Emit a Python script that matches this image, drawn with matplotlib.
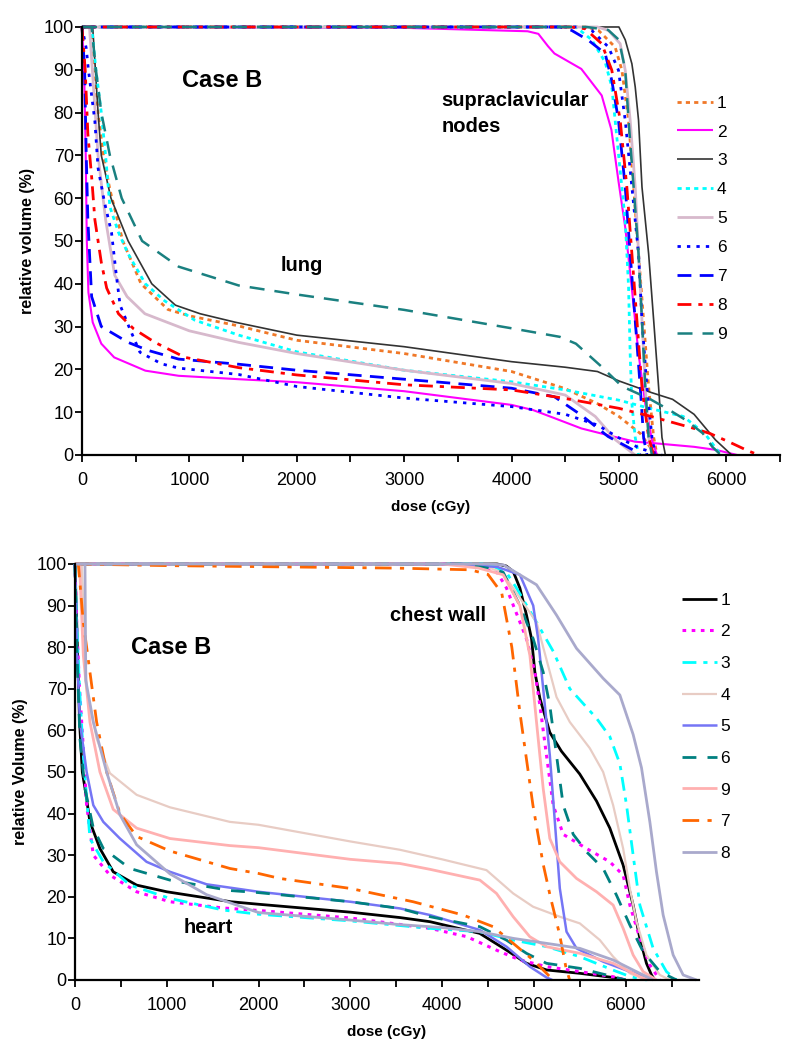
import matplotlib
matplotlib.use('Agg')
import matplotlib.pyplot as plt
from matplotlib.ticker import MultipleLocator

plt.rcParams['font.family'] = ['Liberation Sans', 'DejaVu Sans']

# ---- top panel: lung and supraclavicular nodes (dose cGy, volume %) ----
lung_1 = [(0, 100), (80, 100), (120, 90), (150, 80), (200, 70), (260, 62), (380, 50), (550, 40),
          (800, 34), (1000, 32.5), (1450, 30.2), (2000, 26.8), (3000, 23.7), (4000, 19.5),
          (4500, 15.5), (4800, 12), (5000, 9), (5200, 5), (5300, 1.5), (5350, 0)]
lung_2 = [(0, 100), (20, 90), (35, 70), (45, 50), (60, 38), (100, 31), (180, 26), (300, 22.8),
          (590, 19.7), (900, 18.5), (1460, 17.7), (2000, 17), (3000, 14.9), (4000, 11.7),
          (4200, 10.5), (4400, 8.6), (4650, 6.2), (4950, 4.3), (5150, 3.1), (5350, 2.7),
          (5700, 1.9), (5900, 1.2), (6050, 0.3), (6100, 0)]
lung_3 = [(0, 100), (100, 100), (150, 80), (180, 70), (270, 60), (430, 50), (650, 40), (870, 35),
          (1100, 33), (1430, 31), (2000, 28), (3000, 25.3), (4000, 21.8), (4500, 20.5),
          (4800, 19.5), (5000, 17.3), (5300, 14.6), (5500, 13), (5700, 9.5), (5900, 3.5), (6050, 0)]
lung_4 = [(0, 100), (90, 100), (130, 90), (180, 80), (220, 70), (260, 58), (340, 52), (430, 47),
          (590, 40), (770, 36), (1050, 31.5), (1460, 28), (2000, 24.1), (3000, 19.8),
          (4000, 17.1), (4500, 15.2), (5000, 12.8), (5300, 10.8), (5600, 9), (5800, 5), (5950, 0)]
lung_5 = [(0, 100), (70, 100), (110, 85), (150, 70), (220, 55), (305, 42), (420, 37), (586, 33),
          (1000, 29), (1460, 26.3), (2000, 23.7), (3000, 19.8), (4000, 16.7), (4500, 14),
          (4780, 9), (4970, 3.5), (5150, 0)]
lung_6 = [(0, 100), (40, 95), (60, 90), (120, 78), (150, 67), (210, 59), (275, 52), (320, 42),
          (355, 35), (445, 29.5), (540, 24), (740, 21.3), (900, 20.3), (1460, 18.8), (2000, 16),
          (3000, 13.3), (4000, 11.3), (4500, 9.5), (4800, 7), (5000, 4), (5200, 1.5), (5400, 0)]
lung_7 = [(0, 100), (25, 90), (40, 70), (55, 55), (90, 37), (180, 30), (430, 26.3), (620, 24.4),
          (900, 22.4), (1460, 21.2), (2000, 19.8), (3000, 17.7), (4000, 15.6), (4400, 13.6),
          (4650, 9.3), (4900, 4.3), (5130, 1.2), (5200, 0)]
lung_8 = [(0, 100), (30, 90), (55, 75), (90, 65), (120, 55), (180, 45), (230, 39), (340, 33),
          (480, 29.5), (680, 26.3), (960, 22.8), (1460, 20.4), (2000, 18.7), (3000, 16.4),
          (4000, 15.2), (4500, 13.2), (5000, 10.9), (5300, 9), (5700, 6.2), (5850, 5),
          (6030, 3), (6200, 1), (6300, 0)]
lung_9 = [(0, 100), (90, 100), (130, 90), (180, 80), (260, 70), (370, 60), (560, 50), (900, 44),
          (1460, 39.6), (2000, 37.5), (3000, 33.9), (4000, 29.6), (4450, 27.6), (4600, 26),
          (4840, 20.6), (5030, 16), (5280, 13.2), (5470, 10.5), (5620, 8.2), (5780, 5.1),
          (5870, 1.9), (5950, 0)]

nodes_1 = [(0, 100), (4700, 100), (4810, 99.2), (4965, 95.3), (5028, 89.9), (5090, 78.2),
           (5137, 62.6), (5183, 47), (5230, 31.4), (5277, 15.8), (5324, 4.1), (5355, 0)]
nodes_2 = [(0, 100), (3000, 99.8), (4150, 99), (4250, 98.4), (4340, 95.5), (4400, 93.8),
           (4650, 90.2), (4840, 84), (4930, 76), (4996, 64), (5060, 53), (5120, 39),
           (5183, 23.6), (5246, 11.9), (5308, 3.4), (5355, 0)]
nodes_3 = [(0, 100), (5000, 100), (5059, 97), (5121, 91.4), (5152, 86), (5183, 78.2),
           (5215, 62.6), (5277, 47), (5324, 31.4), (5370, 15.8), (5401, 4.1), (5433, 0)]
nodes_4 = [(0, 100), (4600, 100), (4747, 97), (4872, 91.8), (4934, 86), (4996, 70.4),
           (5059, 54.8), (5090, 39.2), (5105, 23.6), (5121, 11.9), (5152, 4.1), (5183, 0)]
nodes_5 = [(0, 100), (4800, 100), (4903, 99.2), (5012, 96.1), (5059, 89.9), (5105, 78.2),
           (5152, 62.6), (5183, 47), (5215, 31.4), (5246, 15.8), (5277, 4.1), (5308, 0)]
nodes_6 = [(0, 100), (4650, 100), (4747, 99.2), (4903, 95.3), (4996, 89.9), (5059, 78.2),
           (5121, 62.6), (5183, 47), (5215, 31.4), (5261, 15.8), (5308, 4.1), (5339, 0)]
nodes_7 = [(0, 100), (4450, 100), (4560, 99.2), (4716, 96.9), (4872, 93.8), (4934, 87.5),
           (4996, 78.2), (5059, 62.6), (5105, 47), (5152, 31.4), (5199, 15.8), (5230, 4.1), (5261, 0)]
nodes_8 = [(0, 100), (4550, 100), (4685, 99.6), (4840, 96.1), (4934, 89.9), (5012, 78.2),
           (5074, 62.6), (5121, 47), (5168, 31.4), (5215, 15.8), (5277, 4.1), (5324, 0)]
nodes_9 = [(0, 100), (4700, 100), (4900, 99.3), (5000, 97), (5059, 90), (5090, 78.2),
           (5137, 62.6), (5183, 47), (5215, 31.4), (5246, 15.8), (5277, 4.1), (5308, 0)]

# ---- bottom panel: heart and chest wall ----
heart_1 = [(0, 100), (20, 85), (50, 62), (80, 50), (110, 46), (163, 38), (272, 31.6), (417, 26),
           (672, 22.8), (1000, 21.2), (1700, 18.8), (2000, 18.2), (3000, 16.3), (3540, 15),
           (3870, 14), (4410, 11.2), (4700, 7.2), (4920, 4), (5140, 2.4), (5500, 1.6),
           (5860, 0.6), (6000, 0)]
heart_2 = [(0, 100), (20, 85), (50, 70), (91, 55.7), (127, 42), (200, 30), (381, 25.2),
           (672, 21.2), (1035, 18.8), (1615, 17.3), (2000, 16.7), (3000, 14.9), (3870, 12.4),
           (4270, 10.4), (4630, 6.8), (4850, 4.8), (5140, 3.2), (5500, 2), (5860, 0.8), (6000, 0)]
heart_3 = [(0, 100), (20, 85), (50, 70), (91, 54), (163, 34), (309, 28.4), (599, 22.8),
           (1035, 19.6), (1615, 16.8), (2000, 15.8), (3000, 14.2), (3870, 12.4), (4410, 11.6),
           (4775, 9.6), (5140, 8), (5500, 5.6), (5860, 2.4), (6050, 0.8), (6230, 0)]
heart_4 = [(0, 100), (73, 100), (127, 70), (236, 58), (381, 49.7), (672, 44.5), (1035, 41.5),
           (1688, 38), (2000, 37.3), (3000, 33.3), (3540, 31.3), (4000, 29), (4484, 26.4),
           (4775, 20.8), (4992, 17.6), (5283, 15.2), (5501, 13.6), (5719, 9.6), (5864, 5.6),
           (6045, 1.6), (6230, 0)]
heart_5 = [(0, 100), (20, 80), (54, 62), (127, 50), (200, 42), (309, 38), (490, 34), (780, 28.4),
           (1035, 26), (1434, 23), (2000, 21.2), (3000, 18.8), (3540, 17.2), (3870, 15.6),
           (4412, 12), (4702, 8), (4956, 3.2), (5138, 0.6), (5200, 0)]
heart_6 = [(0, 100), (20, 80), (54, 58), (109, 46), (200, 36.5), (309, 31.6), (599, 26.8),
           (1035, 24), (1688, 21.5), (2000, 21), (3000, 18.8), (3540, 17.2), (3870, 15.2),
           (4412, 12.8), (4700, 9.6), (4920, 6.4), (5138, 4), (5500, 2.8), (5864, 0.8), (6000, 0)]
heart_9 = [(0, 100), (50, 100), (91, 78), (163, 62), (272, 50), (417, 41), (672, 36.5),
           (1035, 34), (1688, 32.3), (2000, 31.8), (3000, 29), (3540, 28), (3867, 26.6),
           (4412, 24), (4593, 20.8), (4775, 15.2), (4956, 10.4), (5138, 8), (5501, 6.4),
           (5864, 4), (6155, 0.8), (6250, 0)]
heart_7 = [(0, 100), (36, 100), (91, 86), (163, 74), (236, 62), (345, 50), (490, 40), (672, 34.5),
           (1035, 31), (1688, 26.8), (2000, 25.6), (2233, 24.4), (3000, 22), (3685, 18.8),
           (4230, 15.6), (4557, 12.8), (4775, 8.8), (4992, 4.8), (5138, 1.6), (5210, 0)]
heart_8 = [(0, 100), (109, 100), (118, 72), (200, 62), (345, 50), (490, 39.7), (672, 32.5),
           (1035, 25.5), (1434, 20.5), (2000, 16.2), (3000, 14.4), (3540, 13.3), (4000, 12.6),
           (4412, 11.6), (4775, 10), (5138, 8.8), (5501, 7.6), (5864, 4.8), (6045, 2.8),
           (6264, 0.4), (6300, 0)]

chest_1 = [(0, 100), (4600, 100), (4700, 99.5), (4775, 98.2), (4848, 94.2), (4920, 87.7),
           (4975, 82), (5011, 74), (5066, 67.7), (5174, 59.5), (5300, 55), (5500, 49.5),
           (5683, 43), (5828, 36.5), (5973, 27.6), (6082, 18), (6155, 10), (6227, 4),
           (6282, 1.2), (6318, 0)]
chest_2 = [(0, 100), (4300, 100), (4600, 98), (4702, 94.2), (4920, 82), (5011, 74), (5066, 66),
           (5138, 54), (5211, 42), (5320, 35), (5574, 31.6), (5828, 28.4), (5973, 25.2),
           (6046, 18), (6155, 10), (6264, 3.6), (6373, 0)]
chest_3 = [(0, 100), (4500, 100), (4700, 98), (4811, 94.2), (5029, 86), (5211, 79), (5392, 70),
           (5683, 62.9), (5828, 58.5), (5937, 52), (6010, 42), (6082, 30), (6155, 18),
           (6300, 7.6), (6445, 2), (6554, 0)]
chest_4 = [(0, 100), (4400, 100), (4650, 98), (4775, 94.2), (5029, 86), (5247, 68), (5392, 62),
           (5610, 55.7), (5755, 50), (5864, 42), (5973, 31.6), (6046, 22), (6119, 14),
           (6227, 6), (6373, 1.2), (6482, 0)]
chest_5 = [(0, 100), (4000, 100), (4600, 99.3), (4848, 97.4), (4993, 90), (5047, 82), (5102, 70),
           (5174, 54), (5229, 38), (5283, 22), (5356, 11.6), (5465, 7.6), (5755, 4.4),
           (6046, 2), (6264, 0.4), (6300, 0)]
chest_6 = [(0, 100), (4200, 100), (4500, 99), (4666, 98), (4848, 90), (4993, 82), (5102, 74),
           (5174, 66), (5247, 54), (5320, 42), (5429, 35), (5574, 30.8), (5755, 26.8),
           (5900, 20.4), (6046, 13.2), (6191, 6.8), (6373, 2), (6554, 0)]
chest_9 = [(0, 100), (4000, 100), (4400, 99), (4666, 97.4), (4848, 90), (4957, 78), (5029, 62),
           (5102, 46), (5174, 34), (5283, 28.4), (5465, 24.4), (5683, 21.2), (5864, 18),
           (5973, 12.4), (6082, 6), (6191, 2), (6336, 0)]
chest_7 = [(0, 100), (1000, 99.6), (3500, 99), (4303, 98.6), (4500, 97.5), (4650, 93),
           (4760, 80), (4850, 64), (4990, 42), (5100, 28), (5180, 20), (5280, 11), (5350, 3),
           (5390, 0)]
chest_8 = [(0, 100), (4500, 100), (4666, 99.8), (5029, 95), (5247, 87.7), (5465, 79.7),
           (5755, 72.5), (5937, 68.5), (6082, 59), (6173, 51), (6264, 38), (6336, 26),
           (6409, 15.6), (6518, 6), (6627, 1.2), (6772, 0)]

top_labels = ['1', '2', '3', '4', '5', '6', '7', '8', '9']
top_curves = [(lung_1, nodes_1), (lung_2, nodes_2), (lung_3, nodes_3), (lung_4, nodes_4),
              (lung_5, nodes_5), (lung_6, nodes_6), (lung_7, nodes_7), (lung_8, nodes_8),
              (lung_9, nodes_9)]
top_styles = [
    dict(color='#F07828', lw=2.0, ls=(0, (1.5, 1.5))),
    dict(color='#FF00FF', lw=1.5, ls='-'),
    dict(color='#333333', lw=1.2, ls='-'),
    dict(color='#00FFFF', lw=2.0, ls=(0, (1.5, 1.5))),
    dict(color='#D7B9CC', lw=2.0, ls='-'),
    dict(color='#0000FF', lw=2.0, ls=(0, (1.2, 2.2))),
    dict(color='#0000FF', lw=2.0, ls=(0, (5, 3))),
    dict(color='#FF0000', lw=2.0, ls=(0, (5, 2.5, 1.5, 2.5))),
    dict(color='#1A8080', lw=1.8, ls=(0, (6, 4))),
]

bot_labels = ['1', '2', '3', '4', '5', '6', '9', '7', '8']
bot_curves = [(heart_1, chest_1), (heart_2, chest_2), (heart_3, chest_3), (heart_4, chest_4),
              (heart_5, chest_5), (heart_6, chest_6), (heart_9, chest_9), (heart_7, chest_7),
              (heart_8, chest_8)]
bot_styles = [
    dict(color='#000000', lw=2.0, ls='-'),
    dict(color='#FF00FF', lw=2.2, ls=(0, (1.2, 1.8))),
    dict(color='#00FFFF', lw=2.0, ls=(0, (5, 2.5, 1.5, 2.5))),
    dict(color='#E8CCC4', lw=1.6, ls='-'),
    dict(color='#7575F5', lw=1.8, ls='-'),
    dict(color='#008080', lw=2.0, ls=(0, (5, 4))),
    dict(color='#FFB0B0', lw=2.0, ls='-'),
    dict(color='#FF6600', lw=2.0, ls=(0, (6, 3, 1.5, 3))),
    dict(color='#A9A9CC', lw=2.0, ls='-'),
]


def style_axes(ax, xmax, ylabel):
    ax.set_xlim(0, xmax)
    ax.set_ylim(0, 100)
    for side in ['top', 'right']:
        ax.spines[side].set_visible(False)
    for side in ['left', 'bottom']:
        ax.spines[side].set_linewidth(1.6)
    ax.xaxis.set_major_locator(MultipleLocator(1000))
    ax.xaxis.set_minor_locator(MultipleLocator(500))
    ax.yaxis.set_major_locator(MultipleLocator(10))
    ax.tick_params(which='both', direction='out', length=5, width=1.3, labelsize=13)
    ax.tick_params(axis='x', pad=7)
    ax.tick_params(axis='y', pad=1)
    ax.set_xlabel('dose (cGy)', fontsize=11, fontweight='bold', labelpad=8)
    ax.set_ylabel(ylabel, fontsize=11.5, fontweight='bold', labelpad=6)


def draw(ax, curves, styles, labels):
    handles = []
    for (a, b), st, lab in zip(curves, styles, labels):
        for i, c in enumerate((a, b)):
            xs = [p[0] for p in c]
            ys = [p[1] for p in c]
            ln, = ax.plot(xs, ys, color=st['color'], lw=st['lw'], linestyle=st['ls'],
                          solid_capstyle='butt', dash_capstyle='butt', clip_on=False)
            if i == 0:
                handles.append(ln)
    return handles


fig = plt.figure(figsize=(7.95, 10.5), dpi=100)

ax1 = fig.add_axes([0.1031, 0.5667, 0.878, 0.4076])
h1 = draw(ax1, top_curves, top_styles, top_labels)
style_axes(ax1, 6500, 'relative volume (%)')
ax1.text(1308, 87.4, 'Case B', fontsize=17, fontweight='bold', ha='center', va='center')
ax1.text(2047, 44.2, 'lung', fontsize=14.5, fontweight='bold', ha='center', va='center')
ax1.text(3346, 85, 'supraclavicular\nnodes', fontsize=14.5, fontweight='bold', ha='left',
         va='top', linespacing=1.45)
ax1.legend(h1, top_labels, loc='upper left', bbox_to_anchor=(0.8516, 0.909),
           bbox_transform=fig.transFigure, frameon=False, fontsize=12.5, handlelength=2.1,
           handletextpad=0.2, labelspacing=0.79, borderpad=0, borderaxespad=0)

ax2 = fig.add_axes([0.0943, 0.0667, 0.785, 0.3962])
h2 = draw(ax2, bot_curves, bot_styles, bot_labels)
style_axes(ax2, 6800, 'relative Volume (%)')
ax2.text(1046, 79.8, 'Case B', fontsize=17, fontweight='bold', ha='center', va='center')
ax2.text(3431, 87.7, 'chest wall', fontsize=14.5, fontweight='bold', ha='left', va='center')
ax2.text(1449, 12.7, 'heart', fontsize=14.5, fontweight='bold', ha='center', va='center')
ax2.legend(h2, bot_labels, loc='upper left', bbox_to_anchor=(0.858, 0.4357),
           bbox_transform=fig.transFigure, frameon=False, fontsize=12.5, handlelength=2.0,
           handletextpad=0.2, labelspacing=0.95, borderpad=0, borderaxespad=0)

fig.savefig('out.png', dpi=100)
